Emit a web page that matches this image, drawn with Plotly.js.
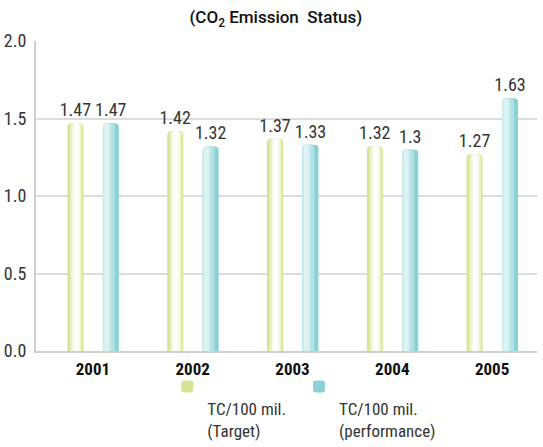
<!DOCTYPE html>
<html>
<head>
<meta charset="utf-8">
<script src="https://cdn.plot.ly/plotly-3.0.1.min.js"></script>
<style>html,body{margin:0;padding:0;background:#fff;}#chart{width:543px;height:447px;}</style>
</head>
<body>
<div id="chart"></div>
<script>
const years = ['2001', '2002', '2003', '2004', '2005'];
const target = [1.47, 1.42, 1.37, 1.32, 1.27];
const performance = [1.47, 1.32, 1.33, 1.3, 1.63];
const yTicks = [0, 0.5, 1.0, 1.5, 2.0];
const yTickText = ['0.0', '0.5', '1.0', '1.5', '2.0'];
const legendTarget = ' <br>TC/100 mil.<br>(Target)';
const legendPerf = ' <br>TC/100 mil.<br>(performance)';

const FONT = 'Liberation Sans Narrow, Roboto Condensed, Roboto, Arial Narrow, sans-serif';
const W = 0.16;
const tOff = -0.255, pOff = 0.10;

function layer(y, off, w, color, extra) {
  return Object.assign({
    type: 'bar', x: years, y: y, width: w, offset: off,
    marker: {color: color, line: {width: 0}, cornerradius: 4},
    showlegend: false, hoverinfo: 'skip'
  }, extra || {});
}

const data = [
  layer(target, tOff, W, '#d3e493', {
    name: legendTarget, showlegend: true, legend: 'legend',
    text: target.map(String), textposition: 'outside', constraintext: 'none',
    textfont: {family: FONT, size: 18, color: '#333'}, cliponaxis: false
  }),
  layer(target, tOff + 0.025, 0.12, '#e9f3c6'),
  layer(target, tOff + 0.05, 0.075, '#f8fbec'),
  layer(target, tOff + 0.07, 0.035, '#ffffff'),
  layer(performance, pOff, W, '#8ad1d5', {
    name: legendPerf, showlegend: true, legend: 'legend2',
    text: performance.map(String), textposition: 'outside', constraintext: 'none',
    textfont: {family: FONT, size: 18, color: '#333'}, cliponaxis: false
  }),
  layer(performance, pOff, 0.12, '#b2e1e3'),
  layer(performance, pOff, 0.08, '#cdecee'),
  layer(performance, pOff + 0.015, 0.045, '#dcf2f3')
];

const legendStyle = {
  orientation: 'v', xanchor: 'left', y: -0.058, yanchor: 'top',
  valign: 'top', font: {family: FONT, size: 17, color: '#333'},
  itemclick: false, bgcolor: 'rgba(0,0,0,0)'
};

const layout = {
  width: 543, height: 447,
  margin: {l: 36, r: 6, t: 41, b: 96, autoexpand: false},
  paper_bgcolor: '#fff', plot_bgcolor: '#fff',
  barmode: 'overlay',
  font: {family: FONT, color: '#333'},
  title: {
    text: '(CO<sub>2</sub> Emission  Status)',
    x: 0.508, xref: 'container', xanchor: 'center',
    y: 0.962, yref: 'container', yanchor: 'middle',
    font: {family: 'Roboto, sans-serif', size: 17, color: '#111', weight: 500}
  },
  xaxis: {
    type: 'category', range: [-0.57, 4.45],
    showgrid: false, showline: true, linecolor: '#cfcfcf', linewidth: 2,
    ticks: '', tickfont: {family: FONT, size: 17, color: '#111', weight: 'bold'},
    ticklabelstandoff: 2, fixedrange: true
  },
  yaxis: {
    range: [0, 2.0], tickvals: yTicks, ticktext: yTickText,
    showgrid: true, gridcolor: '#dcdcdc', gridwidth: 2,
    showline: true, linecolor: '#cfcfcf', linewidth: 2,
    zeroline: false, ticks: '', ticklabelstandoff: 4,
    tickfont: {family: FONT, size: 18, color: '#333'}, fixedrange: true
  },
  legend: Object.assign({x: 0.262}, legendStyle),
  legend2: Object.assign({x: 0.525}, legendStyle),
  showlegend: true
};

Plotly.newPlot('chart', data, layout, {displayModeBar: false, staticPlot: true});
</script>
</body>
</html>
